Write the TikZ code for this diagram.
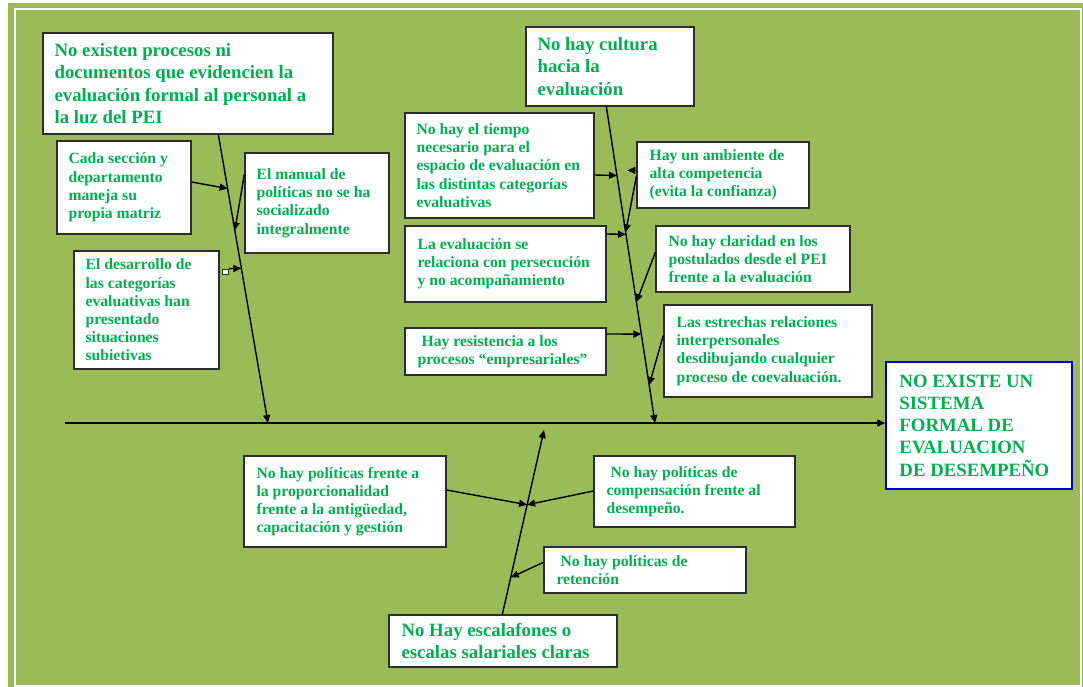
\documentclass[tikz,border=0pt]{standalone}
\usepackage{fontspec}
\setmainfont{Liberation Serif}
\usetikzlibrary{arrows.meta,calc}
\definecolor{bg}{RGB}{155,187,89}
\definecolor{tg}{RGB}{0,176,80}
\definecolor{bd}{RGB}{45,45,45}
\tikzset{
  bx/.style={draw=bd, fill=white, line width=1.3pt, inner sep=0pt, rectangle},
  txt/.style={text=tg, align=left, inner sep=0pt, font=\bfseries},
  big/.style={font=\bfseries\fontsize{18.8}{22.2}\selectfont},
  small/.style={font=\bfseries\fontsize{15.7}{18.2}\selectfont},
  arr/.style={draw=black, line width=1.4pt, -{Triangle[length=8pt,width=7pt]}},
}
\newcommand\mybx[8]{%
  \node[bx,minimum width=#4pt,minimum height=#5pt] (#1) at ({#2+#4/2},{#3+#5/2}) {};
  \node[txt,#6,anchor=west] (#1t) at ($(#1.west)+(#7,0)$) {#8};}
\begin{document}
\begin{tikzpicture}[x=1pt,y=-1pt]
\useasboundingbox (0,0) rectangle (1083,687);
\fill[bg] (8,3) rectangle (1083,687);
\draw[white, line width=2pt] (15,9.5) rectangle (1080.5,686);

% spine
\coordinate (sp0) at (65,423);
% effect box
\node[bx, draw=blue!85!black, line width=1.5pt, minimum width=186pt, minimum height=127pt] (eff) at (979,425.5) {};
\node[txt,big,anchor=west] (efft) at ($(eff.west)+(14,0)$) {NO EXISTE UN\\SISTEMA\\FORMAL DE\\EVALUACION\\DE DESEMPEÑO};
\draw[arr] (sp0) -- (sp0 -| eff.west);

% upper left group
\mybx{A}{43}{33}{290}{101}{big}{12}{No existen procesos ni\\documentos que evidencien la\\evaluación formal al personal a\\la luz del PEI}
\mybx{cada}{57}{141}{134}{93}{small}{12}{Cada sección y\\departamento\\maneja su\\propia matriz}
\mybx{manual}{245}{153}{144}{100}{small}{12}{El manual de\\políticas no se ha\\socializado\\integralmente}
\mybx{desa}{74}{251}{145}{118}{small}{12}{El desarrollo de\\las categorías\\evaluativas han\\presentado\\situaciones\\subietivas}
\node[bx, line width=0.8pt, minimum width=6pt, minimum height=5pt] (sq) at (225.5,271.5) {};

\coordinate (b1s) at ($(A.south west)+(176,0)$);
\coordinate (b1e) at (268,423);
\draw[arr] (b1s) -- (b1e);
\draw[arr] ($(cada.east)+(0,-5.5)$) -- ($(b1s)!0.187!(b1e)$);
\draw[arr] ($(manual.north west)+(0,22)$) -- ($(b1s)!0.332!(b1e)$);
\draw[arr] (sq.north east) -- ($(b1s)!0.4637!(b1e)$);

% upper right group
\mybx{cult}{526}{27}{168}{79}{big}{12}{No hay cultura\\hacia la\\evaluación}
\mybx{tiempo}{405}{113}{189}{105}{small}{12}{No hay el tiempo\\necesario para el\\espacio de evaluación en\\las distintas categorías\\evaluativas}
\mybx{amb}{637}{142}{172}{66}{small}{13}{Hay un ambiente de\\alta competencia\\(evita la confianza)}
\mybx{laeval}{405}{226}{201}{76}{small}{13}{La evaluación se\\relaciona con persecución\\y no acompañamiento}
\mybx{clar}{656}{226}{194}{66}{small}{13}{No hay claridad en los\\postulados desde el PEI\\frente a la evaluación}
\mybx{resis}{405}{328}{201}{47}{small}{13}{\hspace*{4pt}Hay resistencia a los\\procesos “empresariales”}
\mybx{estre}{664}{305}{208}{92}{small}{13}{Las estrechas relaciones\\interpersonales\\desdibujando cualquier\\proceso de coevaluación.}

\coordinate (b2s) at ($(cult.south west)+(81,0)$);
\coordinate (b2e) at (655,423);
\draw[arr] (b2s) -- (b2e);
\draw[arr] ($(tiempo.east)+(0,9.5)$) -- ($(b2s)!0.2177!(b2e)$);
\draw[arr] ($(amb.north west)+(0,35)$) -- ($(b2s)!0.397!(b2e)$);
\draw[arr] ($(amb.north west)+(0,29)$) -- ++(-9,0);
\draw[arr] ($(laeval.east)+(0,-30)$) -- ($(b2s)!0.4038!(b2e)$);
\draw[arr] ($(clar.north west)+(0,27)$) -- ($(b2s)!0.618!(b2e)$);
\draw[arr] ($(resis.east)+(0,-17.5)$) -- ($(b2s)!0.719!(b2e)$);
\draw[arr] ($(estre.north west)+(0,31)$) -- ($(b2s)!0.880!(b2e)$);

% lower group
\mybx{pol}{244}{456}{202}{91}{small}{13}{No hay políticas frente a\\la proporcionalidad\\frente a la antigüedad,\\capacitación y gestión}
\mybx{comp}{594}{456}{201}{71}{small}{13}{\hspace*{4pt}No hay políticas de\\compensación frente al\\desempeño.}
\mybx{ret}{544}{547}{202}{46}{small}{13}{\hspace*{4pt}No hay políticas de\\retención}
\mybx{esc}{389}{615}{228}{52}{big}{13}{No Hay escalafones o\\escalas salariales claras}

\coordinate (b3s) at ($(esc.north west)+(114,0)$);
\coordinate (b3e) at (544,430);
\draw[arr] (b3s) -- (b3e);
\draw[arr] ($(pol.east)+(0,-11.5)$) -- ($(b3s)!0.5946!(b3e)$);
\draw[arr] ($(comp.west)+(0,-0.5)$) -- ($(b3s)!0.5946!(b3e)$);
\draw[arr] ($(ret.north west)+(0,16)$) -- ($(b3s)!0.2!(b3e)$);
\end{tikzpicture}
\end{document}
